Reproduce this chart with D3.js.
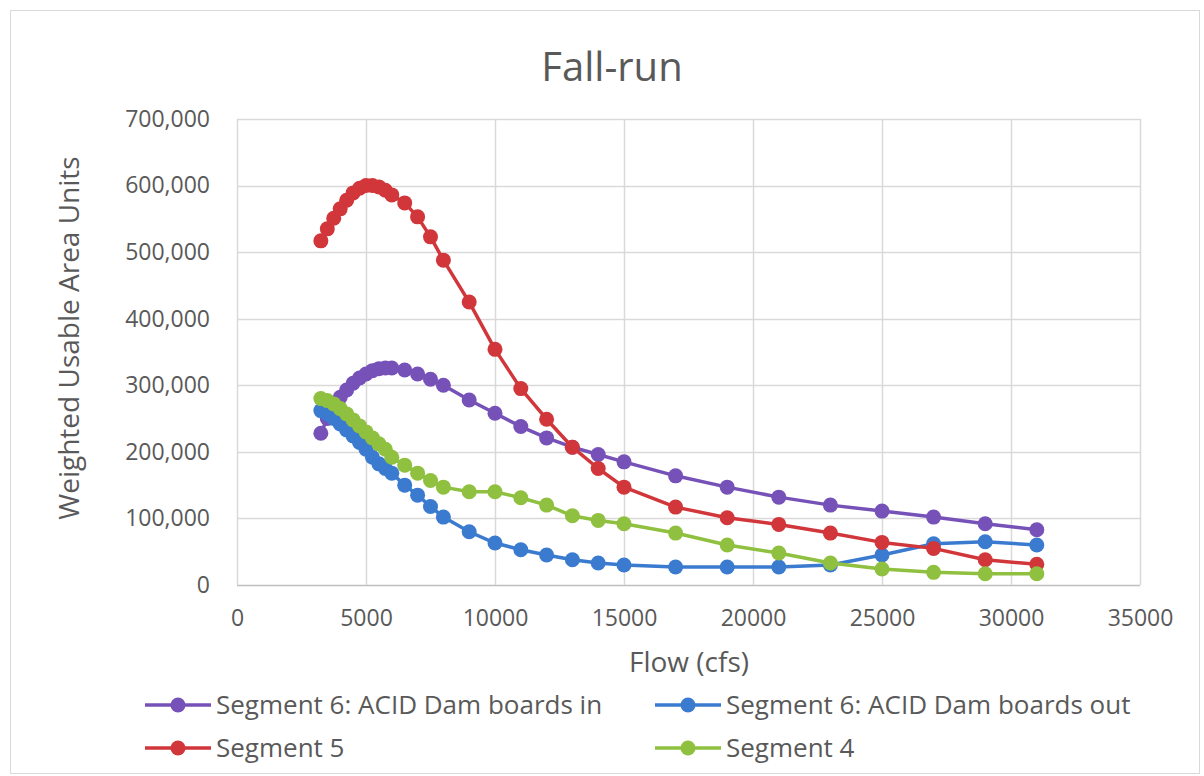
<!DOCTYPE html>
<html><head><meta charset="utf-8">
<script src="https://cdn.jsdelivr.net/npm/d3@7"></script>
<style>
html,body{margin:0;padding:0;background:#fff;}
text{font-family:"Open Sans",sans-serif;fill:#595959;}
</style></head>
<body><svg id="c" width="1204" height="776"></svg>
<script>
const flows = [3250,3500,3750,4000,4250,4500,4750,5000,5250,5500,5750,6000,6500,7000,7500,8000,9000,10000,11000,12000,13000,14000,15000,17000,19000,21000,23000,25000,27000,29000,31000];
const seg6In  = [228000,250000,268000,282000,293000,303000,311000,317000,322000,325000,326000,326000,323000,317000,309000,300000,278000,258000,238000,221000,207000,196000,185000,164000,147000,132000,120000,111000,102000,92000,83000];
const seg6Out = [262000,257000,250000,242000,233000,224000,214000,204000,192000,182000,175000,168000,150000,135000,118000,102000,80000,63000,53000,45000,38000,33000,30000,27000,27000,27000,30000,45000,62000,65000,60000];
const seg5    = [517000,535000,551000,565000,578000,589000,596000,600000,600000,598000,593000,586000,574000,553000,523000,488000,425000,354000,295000,249000,207000,175000,147000,117000,101000,91000,78000,64000,55000,38000,31000];
const seg4    = [280000,277000,272000,265000,257000,248000,239000,230000,221000,212000,204000,192000,180000,168000,157000,147000,140000,140000,131000,120000,104000,97000,92000,78000,60000,48000,33000,24000,19000,17000,17000];
const seriesNames = ["Segment 6: ACID Dam boards in","Segment 6: ACID Dam boards out","Segment 5","Segment 4"];
const seriesColors = ["#7652b8","#3a7bd0","#d1363a","#8fc03f"];
const xTicks = [0,5000,10000,15000,20000,25000,30000,35000];
const yTicks = [0,100000,200000,300000,400000,500000,600000,700000];
const title = "Fall-run", xTitle = "Flow (cfs)", yTitle = "Weighted Usable Area Units";

const svg = d3.select("#c");
svg.append("rect").attr("x",10.5).attr("y",10.5).attr("width",1189).attr("height",763)
  .attr("fill","#fff").attr("stroke","#d9d9d9");

const L=237,R=1140,T=119,B=585;
const x = d3.scaleLinear().domain([0,35000]).range([L,R]);
const y = d3.scaleLinear().domain([0,700000]).range([B,T]);

const g = svg.append("g");
g.selectAll(".hg").data(yTicks).join("line").attr("x1",L).attr("x2",R)
  .attr("y1",d=>Math.round(y(d))+0.5).attr("y2",d=>Math.round(y(d))+0.5)
  .attr("stroke",d=>d===0?"#bfbfbf":"#d9d9d9").attr("stroke-width",1.5);
g.selectAll(".vg").data(xTicks).join("line").attr("y1",T).attr("y2",B)
  .attr("x1",d=>Math.round(x(d))+0.5).attr("x2",d=>Math.round(x(d))+0.5)
  .attr("stroke","#d9d9d9").attr("stroke-width",1.5);

const fmt = d3.format(",");
const ya = svg.append("g").attr("transform",`translate(${L},0)`)
  .call(d3.axisLeft(y).tickValues(yTicks).tickFormat(fmt).tickSize(0).tickPadding(27));
ya.select(".domain").remove();
ya.selectAll("text").attr("font-size",23).attr("fill","#595959").style("font-family",'"Open Sans",sans-serif');
const xa = svg.append("g").attr("transform",`translate(0,${B})`)
  .call(d3.axisBottom(x).tickValues(xTicks).tickFormat(d=>String(d)).tickSize(0).tickPadding(25));
xa.select(".domain").remove();
xa.selectAll("text").attr("font-size",23).attr("fill","#595959").style("font-family",'"Open Sans",sans-serif');

svg.append("text").attr("x",612).attr("y",81).attr("text-anchor","middle").attr("font-size",40).text(title);
svg.append("text").attr("x",689).attr("y",672).attr("text-anchor","middle").attr("font-size",28).text(xTitle);
svg.append("text").attr("transform",`translate(79,338) rotate(-90)`).attr("text-anchor","middle").attr("font-size",28).text(yTitle);

const all = [seg6In, seg6Out, seg5, seg4];
const line = d3.line().x((d,i)=>x(flows[i])).y(d=>y(d));
all.forEach((vals,k)=>{
  const sg = svg.append("g");
  sg.append("path").datum(vals).attr("d",line).attr("fill","none")
    .attr("stroke",seriesColors[k]).attr("stroke-width",3.5).attr("stroke-linejoin","round");
  sg.selectAll("circle").data(vals).join("circle")
    .attr("cx",(d,i)=>x(flows[i])).attr("cy",d=>y(d)).attr("r",7.5)
    .attr("fill",seriesColors[k]);
});

const legPos = [[145,705],[655,705],[145,748],[655,748]];
seriesNames.forEach((n,k)=>{
  const [lx,ly]=legPos[k];
  const lg = svg.append("g");
  lg.append("line").attr("x1",lx).attr("x2",lx+66).attr("y1",ly).attr("y2",ly)
    .attr("stroke",seriesColors[k]).attr("stroke-width",3.5);
  lg.append("circle").attr("cx",lx+33).attr("cy",ly).attr("r",7.5).attr("fill",seriesColors[k]);
  lg.append("text").attr("x",lx+71).attr("y",ly+9).attr("font-size",26).text(n);
});
</script></body></html>
